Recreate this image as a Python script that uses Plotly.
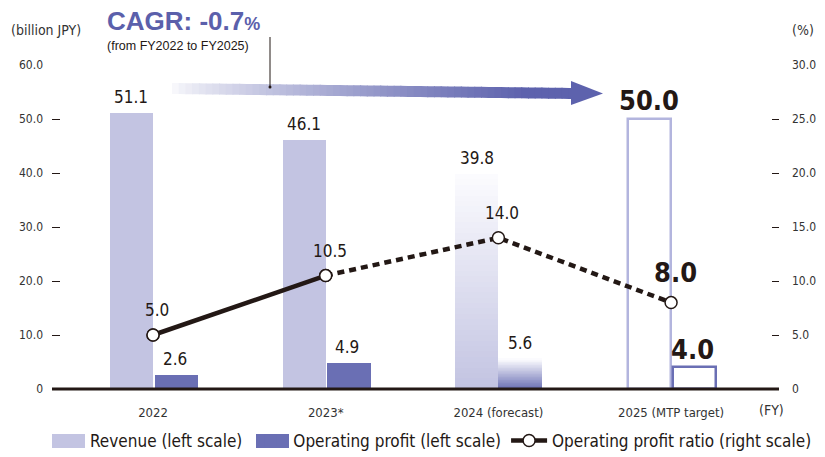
import plotly.graph_objects as go

# ---------------- data ----------------
categories = ["2022", "2023*", "2024 (forecast)", "2025 (MTP target)"]
revenue = [51.1, 46.1, 39.8, 50.0]
operating_profit = [2.6, 4.9, 5.6, 4.0]
op_ratio = [5.0, 10.5, 14.0, 8.0]
status = ["actual", "actual", "forecast", "target"]
left_ticks = [0, 10, 20, 30, 40, 50, 60]
right_ticks = [0, 5, 10, 15, 20, 25, 30]
cagr_text = "CAGR: -0.7"
cagr_sub = "(from FY2022 to FY2025)"

# ---------------- style ----------------
REV = "#c3c4e2"
REV_OUT = "#b3b5de"
OP = "#6a6fb4"
LINE = "#231815"
TXT = "#231815"
CAGR_COL = "#5b60ab"
NARROW = "Liberation Sans Narrow, DejaVu Sans Condensed, Arial Narrow, sans-serif"
ARIAL = "Liberation Sans, Arial, sans-serif"

OFF = 8                      # page body margin in the browser
W, H = 825 - OFF, 457 - OFF
ML, MT = 52 - OFF, 65 - OFF  # plot left/top in figure pixels
MR = W - (779 - OFF)
MB = H - (389 - OFF)
PW, PH = W - ML - MR, H - MT - MB


def px(sx):
    """screen x pixel -> paper x"""
    return (sx - OFF - ML) / PW


def py(sy):
    """screen y pixel -> paper y"""
    return (H - MB - (sy - OFF)) / PH


def mix(c1, c2, t):
    a = [int(c1[i:i + 2], 16) for i in (1, 3, 5)]
    b = [int(c2[i:i + 2], 16) for i in (1, 3, 5)]
    return "rgb(%d,%d,%d)" % tuple(round(a[k] + (b[k] - a[k]) * t) for k in range(3))


x_idx = list(range(len(categories)))
BW = 0.25

fig = go.Figure()


def bar_style(base_col, out_col, i):
    if status[i] == "target":
        return "white", out_col, 2.5
    return base_col, base_col, 0


for name, vals, col, outc, off in [
    ("Revenue (left scale)", revenue, REV, REV_OUT, -BW),
    ("Operating profit (left scale)", operating_profit, OP, OP, 0.01),
]:
    idx = [i for i in x_idx if status[i] != "forecast"]
    styles = [bar_style(col, outc, i) for i in idx]
    fig.add_trace(go.Bar(
        x=idx, y=[vals[i] for i in idx], name=name,
        offset=off, width=BW,
        marker=dict(color=[s[0] for s in styles],
                    line=dict(color=[s[1] for s in styles], width=[s[2] for s in styles])),
        hoverinfo="skip",
    ))

# Gradient (forecast) bars built from stacked slices
N = 40
for vals, col, off in [(revenue, REV, -BW), (operating_profit, OP, 0.0)]:
    for i in x_idx:
        if status[i] != "forecast":
            continue
        v = vals[i]
        step = v / N
        fig.add_trace(go.Bar(
            x=[i] * N, y=[step * 1.02] * N, base=[step * k for k in range(N)],
            offset=off, width=BW, showlegend=False, hoverinfo="skip",
            marker=dict(color=[mix(col, "#fbfbfe", k / (N - 1)) for k in range(N)],
                        line=dict(width=0)),
        ))

# Operating profit ratio line: solid for actuals, dotted afterwards
fig.add_trace(go.Scatter(
    x=x_idx[:2], y=op_ratio[:2], yaxis="y2", mode="lines+markers",
    name="Operating profit ratio (right scale)",
    line=dict(color=LINE, width=4.5),
    marker=dict(size=12, color="white", line=dict(color=LINE, width=1.5)),
    cliponaxis=False, hoverinfo="skip",
))
fig.add_trace(go.Scatter(
    x=x_idx[1:], y=op_ratio[1:], yaxis="y2", mode="lines",
    line=dict(color=LINE, width=4.5, dash="7px,5px"),
    showlegend=False, cliponaxis=False, hoverinfo="skip",
))
fig.add_trace(go.Scatter(
    x=x_idx, y=op_ratio, yaxis="y2", mode="markers",
    marker=dict(size=12, color="white", line=dict(color=LINE, width=1.5)),
    showlegend=False, cliponaxis=False, hoverinfo="skip",
))

ann = []
for i in x_idx:
    bold = status[i] == "target"
    f_big = dict(family=NARROW, size=27, color=TXT, weight="bold")
    f_norm = dict(family=NARROW, size=17, color=TXT)
    ann.append(dict(x=i - BW / 2, y=revenue[i], xref="x", yref="y",
                    text=("%.1f" % revenue[i]), showarrow=False,
                    xanchor="center", yanchor="middle",
                    font=f_big if bold else f_norm, yshift=19 if bold else 16))
    ann.append(dict(x=i + BW / 2, y=operating_profit[i], xref="x", yref="y",
                    text=("%.1f" % operating_profit[i]), showarrow=False,
                    xanchor="center", yanchor="middle",
                    font=f_big if bold else f_norm, yshift=18 if bold else 16))
    ann.append(dict(x=i, y=op_ratio[i], xref="x", yref="y2",
                    text=("%.1f" % op_ratio[i]), showarrow=False, xshift=4,
                    xanchor="center", yanchor="middle",
                    font=f_big if bold else f_norm, yshift=30 if bold else 25))

# axis captions & CAGR callout
ann += [
    dict(x=px(9), y=py(30), xref="paper", yref="paper", text="(billion JPY)",
         showarrow=False, xanchor="left", yanchor="middle",
         font=dict(family=NARROW, size=14, color="#333")),
    dict(x=px(803), y=py(30), xref="paper", yref="paper", text="(%)",
         showarrow=False, xanchor="center", yanchor="middle",
         font=dict(family=NARROW, size=14, color="#333")),
    dict(x=px(771), y=py(410), xref="paper", yref="paper", text="(FY)",
         showarrow=False, xanchor="center", yanchor="middle",
         font=dict(family=NARROW, size=14, color="#333")),
    dict(x=px(105), y=py(21.5), xref="paper", yref="paper",
         text="<b>%s</b><b><span style='font-size:18px'>%%</span></b>" % cagr_text,
         showarrow=False, xanchor="left", yanchor="middle",
         font=dict(family=ARIAL, size=26, color=CAGR_COL)),
    dict(x=px(105), y=py(46), xref="paper", yref="paper", text=cagr_sub,
         showarrow=False, xanchor="left", yanchor="middle",
         font=dict(family=ARIAL, size=12.5, color="#231815")),
]

# gradient arrow (decoration)
shapes = []
ax0, ax1, tipx = 172, 575, 603
yl, yr, half = 88.5, 93.5, 5.5
NS = 60
for k in range(NS):
    xa = ax0 + (ax1 - ax0) * k / NS
    xb = ax0 + (ax1 - ax0) * (k + 1) / NS + 1
    ya = yl + (yr - yl) * (xa - ax0) / (ax1 - ax0)
    yb = yl + (yr - yl) * (xb - ax0) / (ax1 - ax0)
    t = min(1.0, (k / NS) ** 0.8 * 1.12)
    col = mix("#f7f7fb", "#5d62ad", t)
    path = "M %f %f L %f %f L %f %f L %f %f Z" % (
        px(xa), py(ya - half), px(xb), py(yb - half), px(xb), py(yb + half), px(xa), py(ya + half))
    shapes.append(dict(type="path", path=path, xref="paper", yref="paper",
                       fillcolor=col, line=dict(width=0), layer="above"))
shapes.append(dict(type="path", xref="paper", yref="paper", fillcolor="#5d62ad",
                   line=dict(width=0), layer="above",
                   path="M %f %f L %f %f L %f %f Z" % (px(ax1 - 4), py(81), px(tipx), py(yr),
                                                      px(ax1 - 4), py(105))))
shapes.append(dict(type="line", xref="paper", yref="paper", x0=px(270), x1=px(270),
                   y0=py(37), y1=py(87), line=dict(color="#231815", width=1), layer="above"))
shapes.append(dict(type="circle", xref="paper", yref="paper", x0=px(268.5), x1=px(271.5),
                   y0=py(85.5), y1=py(88.5), fillcolor="#231815", line=dict(width=0),
                   layer="above"))
shapes.append(dict(type="line", xref="paper", yref="paper", x0=0, x1=1, y0=0, y1=0,
                   line=dict(color="#231815", width=3), layer="above"))
# wide legend swatches (decoration behind the native legend keys)
for sx0, sx1, c in [(52, 85, REV), (256, 289, OP)]:
    shapes.append(dict(type="rect", xref="paper", yref="paper", x0=px(sx0), x1=px(sx1),
                       y0=py(448), y1=py(434), fillcolor=c, line=dict(width=0),
                       layer="above"))

fig.update_layout(
    width=W, height=H,
    margin=dict(l=ML, r=MR, t=MT, b=MB, autoexpand=False),
    paper_bgcolor="white", plot_bgcolor="white",
    barmode="overlay", bargap=0,
    showlegend=True,
    legend=dict(orientation="h", x=px(44), xanchor="left", y=py(441), yanchor="middle",
                font=dict(family=NARROW, size=17, color=TXT), itemwidth=36,
                traceorder="normal", bgcolor="rgba(0,0,0,0)"),
    xaxis=dict(range=[-0.585, 3.625], tickvals=x_idx, ticktext=categories,
               showgrid=False, zeroline=False, showline=False, ticks="", automargin=False,
               tickfont=dict(family=NARROW, size=13, color="#333"), ticklabelstandoff=14),
    yaxis=dict(range=[0, 60], tickvals=left_ticks, automargin=False,
               ticktext=["0" if v == 0 else "%.1f" % v for v in left_ticks],
               showgrid=False, zeroline=False, showline=False,
               ticks="inside", ticklen=8, tickwidth=1, tickcolor="#231815",
               tickfont=dict(family=NARROW, size=12, color="#333"), ticklabelstandoff=8),
    yaxis2=dict(range=[0, 30], overlaying="y", side="right", tickvals=right_ticks,
                automargin=False,
                ticktext=["0" if v == 0 else "%.1f" % v for v in right_ticks],
                showgrid=False, zeroline=False, showline=False,
                ticks="inside", ticklen=7, tickwidth=1, tickcolor="#231815",
                tickfont=dict(family=NARROW, size=12, color="#333"), ticklabelstandoff=12),
    annotations=ann, shapes=shapes,
)

fig.write_html("out.html")
